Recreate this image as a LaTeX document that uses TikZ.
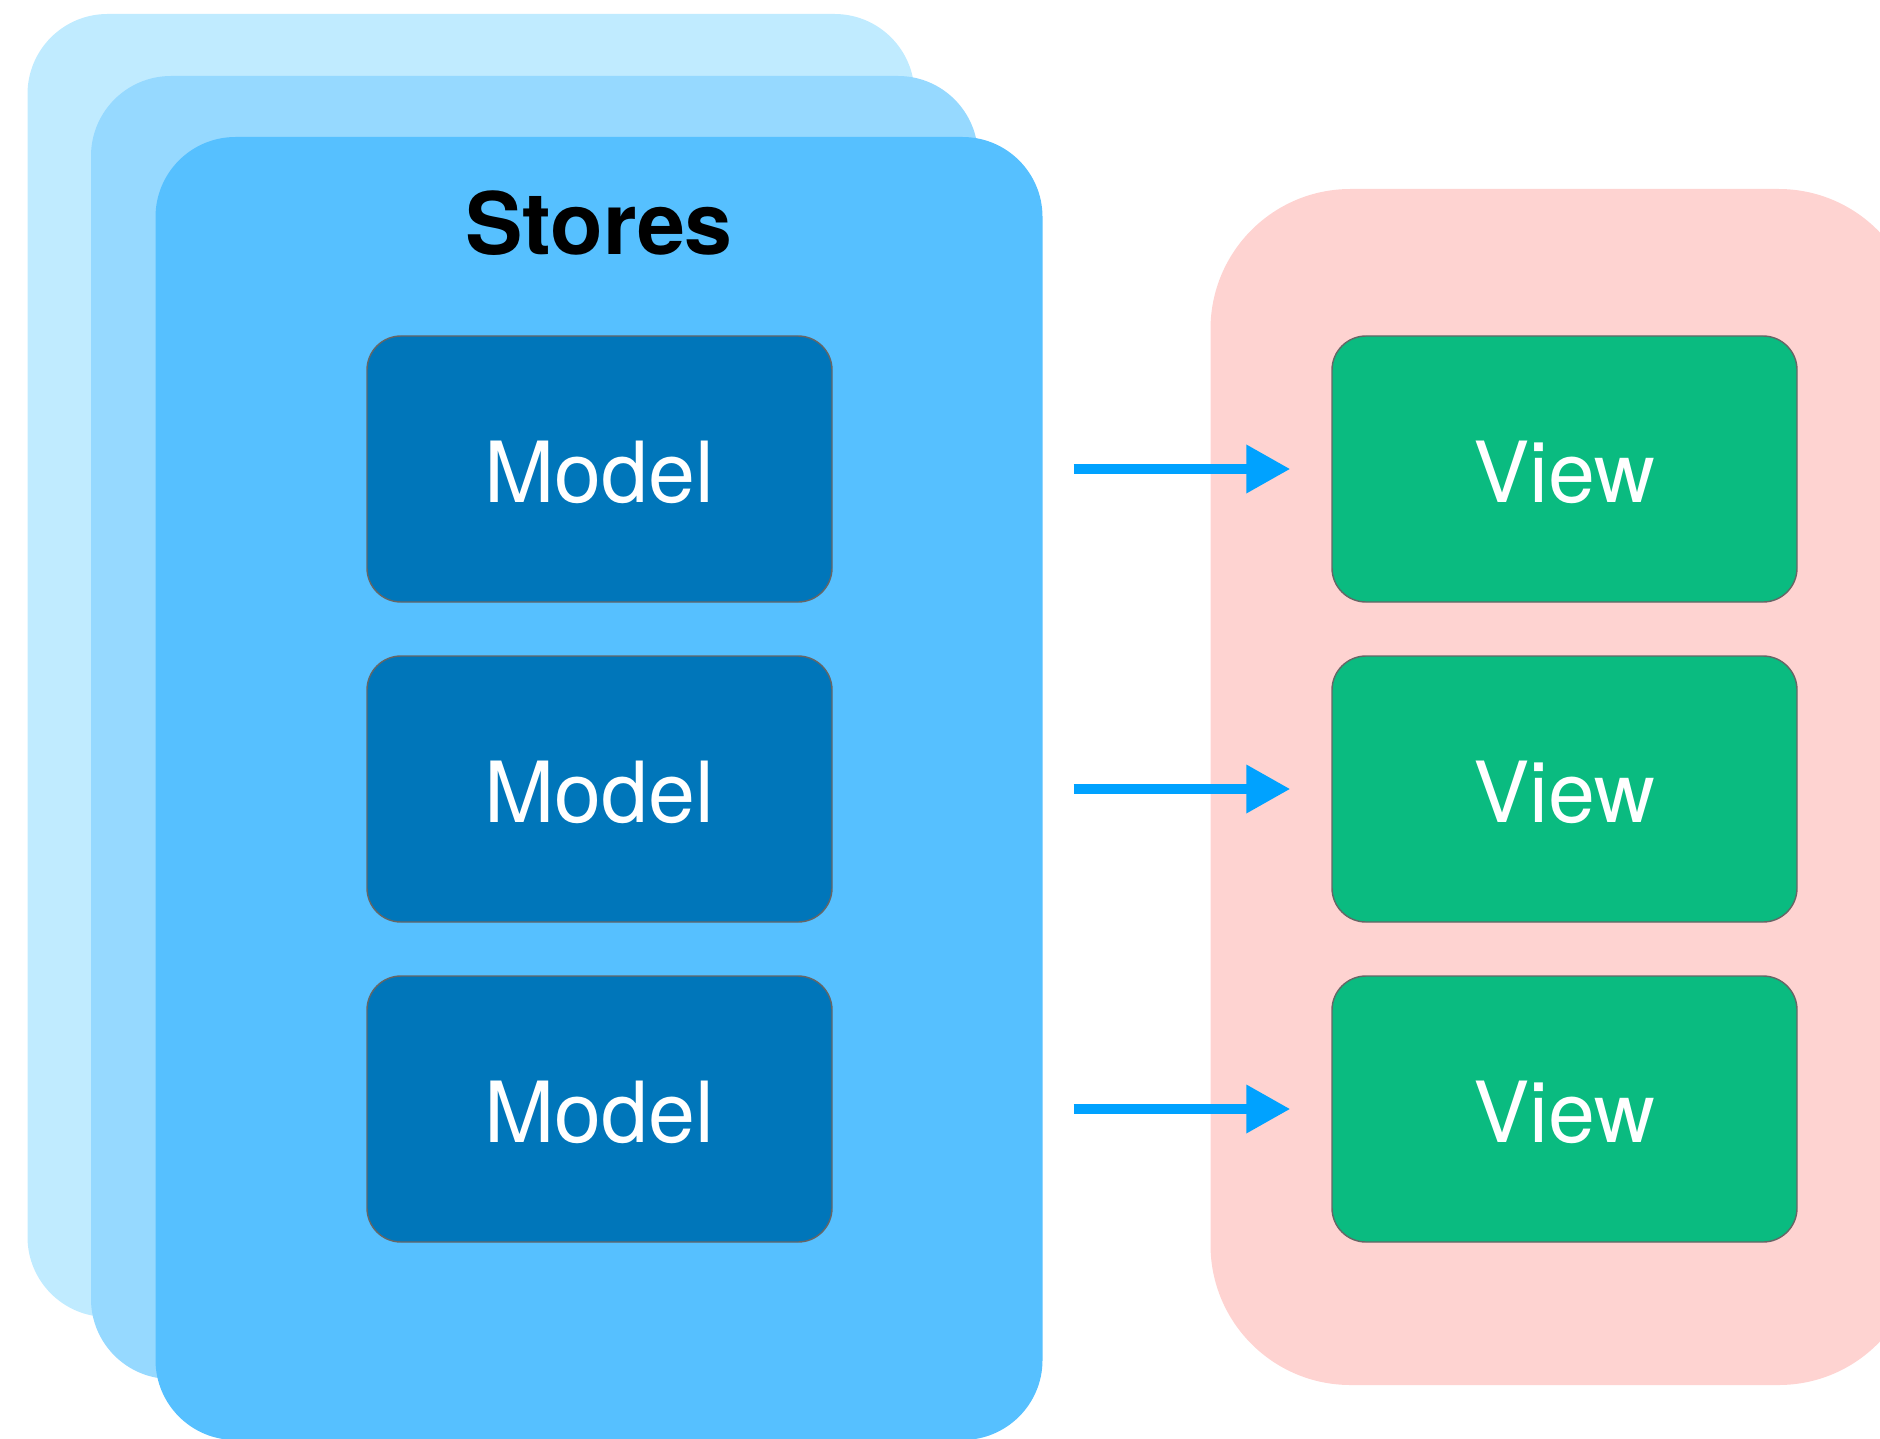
\documentclass[tikz,border=0pt]{standalone}
\usepackage{fontspec}
\setmainfont{TeX Gyre Heros}
\usetikzlibrary{arrows.meta,positioning}
\definecolor{StoreBack}{RGB}{192,235,255}
\definecolor{StoreMid}{RGB}{150,217,255}
\definecolor{StoreFront}{RGB}{86,192,255}
\definecolor{ModelBlue}{RGB}{0,118,186}
\definecolor{ViewGreen}{RGB}{10,187,128}
\definecolor{ViewPink}{RGB}{254,211,209}
\definecolor{FeedBlue}{RGB}{0,162,255}

\begin{document}
\begin{tikzpicture}[every node/.style={font=\fontsize{24}{29}\selectfont},
    card/.style={rounded corners=0.8cm, minimum width=8.87cm, minimum height=13.03cm, inner sep=0pt},
    box/.style={draw=black!60, line width=0.4pt, rounded corners=0.34cm, minimum width=4.65cm, minimum height=2.66cm, text height=19pt, text depth=0pt, text=white},
    feed/.style={-{Triangle[length=0.44cm,width=0.46cm]}, line width=0.1cm, draw=FeedBlue, shorten <=2.41cm, shorten >=0.41cm}]
    \clip (0,0) rectangle (18.8,-14.38);
    % stacked stores
    \node[card, fill=StoreBack] (back) at (4.71,-6.655) {};
    \node[card, fill=StoreMid] (mid) at (5.345,-7.275) {};
    \node[card, fill=StoreFront] (front) at (5.99,-7.885) {};
    \node[font=\fontsize{24.5}{29}\selectfont\bfseries] (stores) at (5.99,-2.23) {Stores};
    % view area
    \node[rounded corners=1.4cm, fill=ViewPink, minimum width=7.08cm, minimum height=11.96cm, inner sep=0pt] (views) at (15.645,-7.87) {};
    \node[box, fill=ModelBlue] (model1) at (5.995,-4.69) {Model};
    \node[box, fill=ModelBlue] (model2) at (5.995,-7.89) {Model};
    \node[box, fill=ModelBlue] (model3) at (5.995,-11.09) {Model};
    \node[box, fill=ViewGreen] (view1) at (15.645,-4.69) {View};
    \node[box, fill=ViewGreen] (view2) at (15.645,-7.89) {View};
    \node[box, fill=ViewGreen] (view3) at (15.645,-11.09) {View};
    \draw[feed] (model1) -- (view1);
    \draw[feed] (model2) -- (view2);
    \draw[feed] (model3) -- (view3);
\end{tikzpicture}
\end{document}
